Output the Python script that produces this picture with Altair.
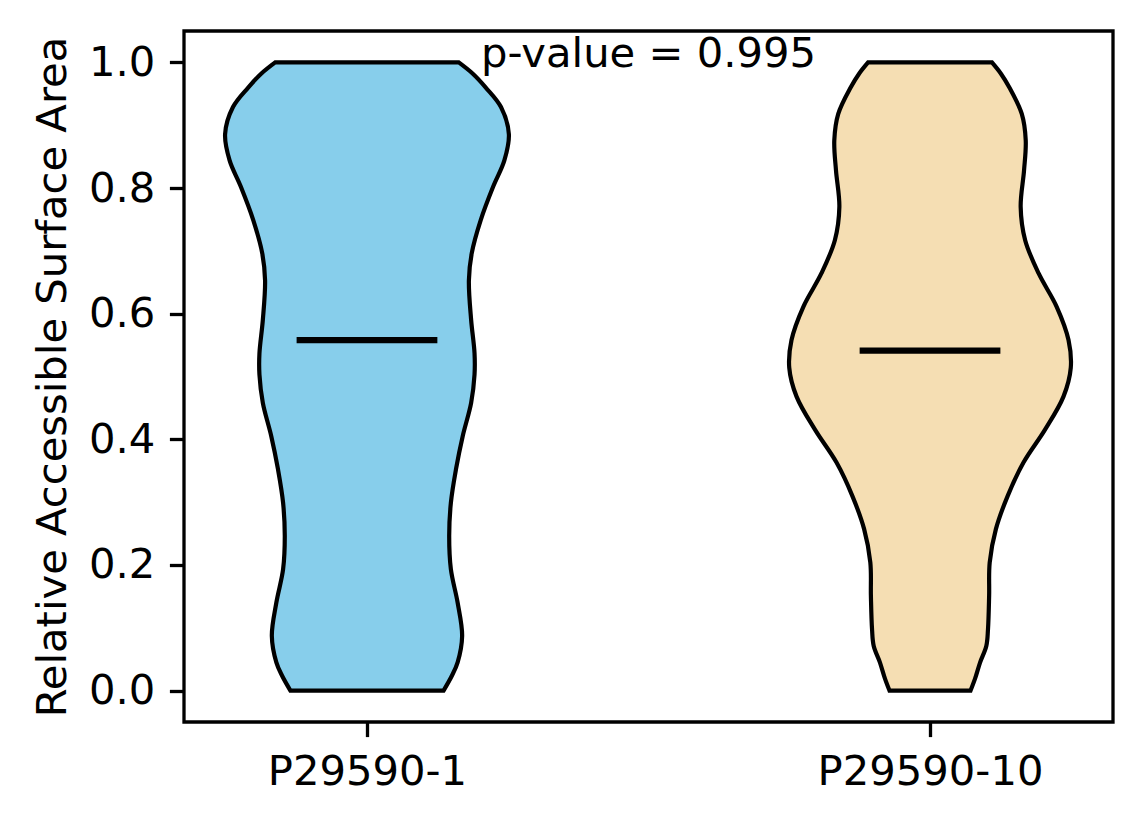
import altair as alt
import pandas as pd

# groups, positions and fills
labels = ['P29590-1', 'P29590-10']
positions = [1, 2]
fill_colors = ['#87CEEB', '#F5DEB3']

# violin outlines: RSA value and body half-width (x units)
rsa_1 = [1.000, 0.982, 0.960, 0.929, 0.886, 0.844, 0.802, 0.749, 0.696, 0.653, 0.590,
         0.537, 0.503, 0.458, 0.405, 0.352, 0.299, 0.246, 0.193, 0.140, 0.087,
         0.045, 0.024, 0.000]
half_width_1 = [0.163, 0.188, 0.211, 0.238, 0.252, 0.244, 0.224, 0.202, 0.186, 0.181, 0.185,
                0.191, 0.191, 0.185, 0.170, 0.158, 0.149, 0.146, 0.149, 0.161, 0.169,
                0.161, 0.151, 0.136]

rsa_10 = [1.000, 0.982, 0.960, 0.918, 0.876, 0.828, 0.770, 0.717, 0.664, 0.611, 0.558,
          0.514, 0.468, 0.415, 0.363, 0.310, 0.257, 0.204, 0.151, 0.098, 0.071,
          0.045, 0.019, 0.000]
half_width_10 = [0.110, 0.126, 0.141, 0.163, 0.170, 0.167, 0.161, 0.169, 0.193, 0.225, 0.246,
                 0.250, 0.237, 0.204, 0.166, 0.138, 0.117, 0.106, 0.105, 0.103, 0.100,
                 0.089, 0.080, 0.072]

medians = [0.558, 0.541]
median_half = 0.125
p_value = 0.995

FONT = 'DejaVu Sans'
FS = 41.7

rows = []
for lab, pos, ys, hws in [(labels[0], positions[0], rsa_1, half_width_1),
                          (labels[1], positions[1], rsa_10, half_width_10)]:
    for y, hw in zip(ys, hws):
        rows.append({'label': lab, 'y': y, 'lo': pos - hw, 'hi': pos + hw})
violins = pd.DataFrame(rows)

med_df = pd.DataFrame({'label': labels, 'median': medians,
                       'lo': [p - median_half for p in positions],
                       'hi': [p + median_half for p in positions]})

note_df = pd.DataFrame({'x': [1.5], 'y': [0.992], 'text': [f'p-value = {p_value}']})

x_scale = alt.Scale(domain=[0.675, 2.325], nice=False, zero=False)
y_scale = alt.Scale(domain=[-0.05, 1.05], nice=False, zero=False)

label_expr = f"datum.value == {positions[0]} ? '{labels[0]}' : '{labels[1]}'"
x_axis = alt.Axis(values=positions, labelExpr=label_expr, title='', grid=False)
y_axis = alt.Axis(values=[0, 0.2, 0.4, 0.6, 0.8, 1.0], format='.1f', grid=False,
                  title='Relative Accessible Surface Area')

bodies = alt.Chart(violins).mark_area(
    orient='horizontal', interpolate='catmull-rom', stroke='black', strokeWidth=4.2, opacity=1
).encode(
    y=alt.Y('y:Q', scale=y_scale, axis=y_axis),
    x=alt.X('lo:Q', scale=x_scale, axis=x_axis),
    x2='hi:Q',
    color=alt.Color('label:N', scale=alt.Scale(domain=labels, range=fill_colors), legend=None)
)

median_lines = alt.Chart(med_df).mark_rule(color='black', strokeWidth=6.25).encode(
    x=alt.X('lo:Q', scale=x_scale),
    x2='hi:Q',
    y=alt.Y('median:Q', scale=y_scale)
)

note = alt.Chart(note_df).mark_text(
    font=FONT, fontSize=FS, color='black', align='center', baseline='alphabetic'
).encode(
    x=alt.X('x:Q', scale=x_scale),
    y=alt.Y('y:Q', scale=y_scale),
    text='text:N'
)

chart = alt.layer(bodies, median_lines, note).properties(
    width=929, height=691,
    autosize=alt.AutoSizeParams(type='none'),
    padding={'left': 176, 'top': 23, 'right': 20, 'bottom': 90},
    background='white'
).configure_view(
    stroke='black', strokeWidth=3.3
).configure_axis(
    domain=False, ticks=True, tickColor='black', tickWidth=3.3, tickSize=14.6,
    labelFont=FONT, labelFontSize=FS, labelColor='black', labelPadding=14.6, labelLimit=500,
    titleFont=FONT, titleFontSize=FS, titleFontWeight='normal', titleColor='black',
    titlePadding=14
)

chart.save('out.html', embed_options={'renderer': 'svg', 'actions': False})
